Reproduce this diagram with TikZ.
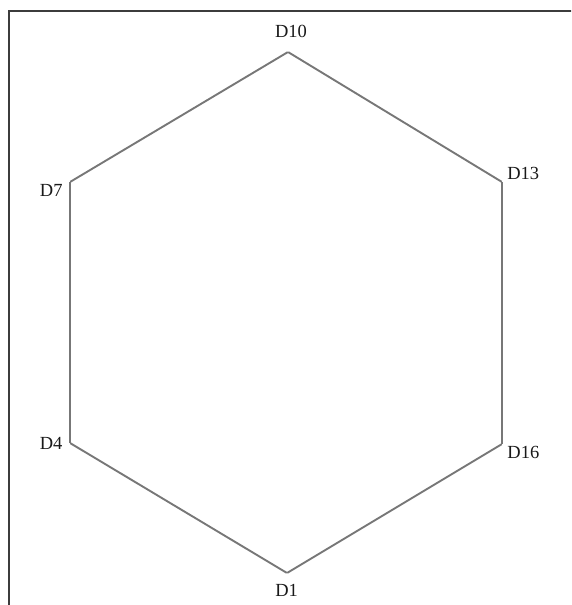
\documentclass[tikz,border=0pt]{standalone}
\usepackage{fontspec}
\setmainfont{Liberation Serif}
\usetikzlibrary{calc}
\definecolor{edgegray}{HTML}{777777}
\definecolor{framegray}{HTML}{3C3C3C}
\tikzset{
  d/.style={inner sep=0pt,minimum size=0pt},
  lbl/.style={font=\fontsize{18.5}{20}\selectfont,text=black!90,inner sep=1pt},
  side/.style={draw=edgegray,line width=1.9pt,line join=miter},
  every picture/.style={line width=0.5pt},
}
\begin{document}
\begin{tikzpicture}[x=1pt,y=-1pt]
\useasboundingbox (0,0) rectangle (571,605);
\clip (0,0) rectangle (571,605);
\draw[framegray,line width=2pt] (9,610)--(9,11)--(580,11);
\node[d,label={[lbl,label distance=13pt,xshift=3pt]90:D10}] (D10) at (288,52){};
\node[d,label={[lbl,label distance=6pt]186:D7}] (D7) at (70,182){};
\node[d,label={[lbl,label distance=6pt]181:D4}] (D4) at (70,443){};
\node[d,label={[lbl,label distance=10pt]268:D1}] (D1) at (287,573){};
\node[d,label={[lbl,label distance=4pt]-12:D16}] (D16) at (502,444){};
\node[d,label={[lbl,label distance=4pt]14:D13}] (D13) at (502,182){};
\draw[side] (D10)--(D7); \draw[side] (D7)--(D4); \draw[side] (D4)--(D1);
\draw[side] (D1)--(D16); \draw[side] (D16)--(D13); \draw[side] (D13)--(D10);
\end{tikzpicture}
\end{document}
